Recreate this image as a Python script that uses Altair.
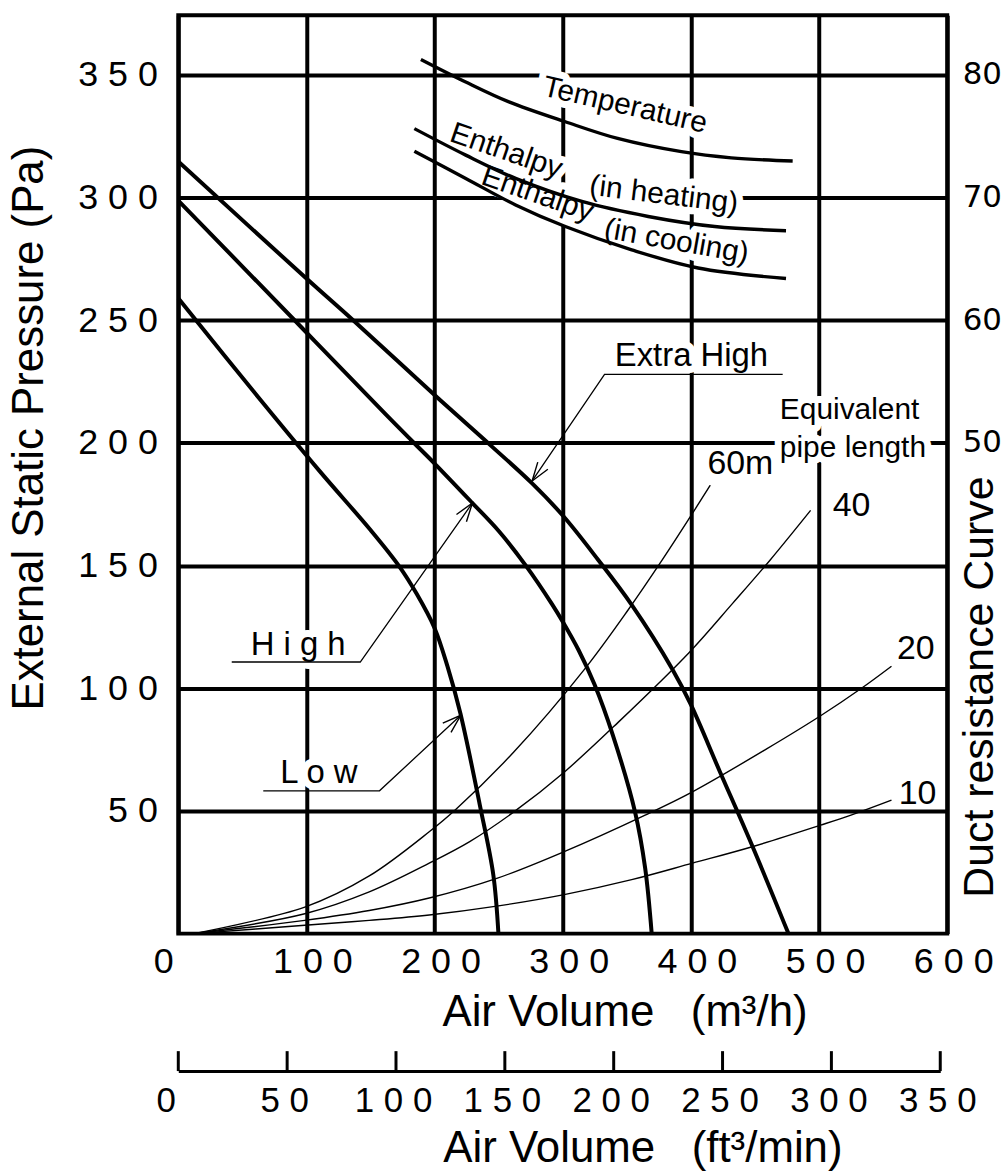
import altair as alt
import pandas as pd

# ---------------- data ----------------
# Fan curves: air volume (m3/h) -> external static pressure (Pa)
xh_q = [0, 100, 137.5, 203.6, 243.7, 276.1, 300.7, 327.4, 353.8, 385.3, 399.8, 422.2, 448.5, 476.1]
xh_p = [314.7, 267, 249.5, 217.8, 199, 183.5, 170, 152.5, 134, 108, 93.5, 66.5, 35, 0]
hi_q = [0, 100, 162.1, 181.6, 200.2, 229.5, 250.2, 270.9, 291.6, 300.7, 312.4, 324.8, 339.2, 356.4, 364.3, 369.4]
hi_p = [298.8, 245, 211.5, 201.2, 191.5, 175.5, 164, 150.2, 134.3, 126.5, 115.5, 101.5, 80.7, 49.6, 26.7, 0]
lo_q = [0, 62.6, 110.3, 150, 172, 186, 200, 210, 220, 235.3, 245.8, 249.8]
lo_p = [259, 218.5, 188.5, 164.5, 150, 138.5, 124.5, 109, 90, 52.4, 24, 0]

# Duct resistance curves (equivalent pipe length)
d60_q = [12, 98.7, 149, 195.8, 216.9, 261.6, 316.9, 351.1, 377.5, 397.8, 415]
d60_p = [0, 10.8, 23.5, 41.5, 50.8, 73.9, 107.7, 132, 152.2, 168.5, 182.7]
d40_q = [12, 98.7, 149, 195.8, 227.4, 261.6, 301.1, 343.2, 398.5, 432.7, 461.7, 493.4]
d40_p = [0, 8.1, 17, 28.7, 37.5, 49.5, 65.8, 86.1, 114.5, 134.7, 152.2, 172.5]
d20_q = [12, 98.7, 149, 195.8, 248.5, 301.1, 364.3, 401.2, 459.1, 501.2, 532.8, 556.5]
d20_p = [0, 5.4, 9.4, 14.5, 22.5, 33.4, 48.3, 57.8, 75.3, 88.8, 99.9, 109]
d10_q = [12, 98.7, 149, 195.8, 248.5, 301.1, 353.8, 401.2, 448.5, 501.2, 524.9, 556.5]
d10_p = [0, 3.4, 5.4, 7.6, 11.2, 15.9, 22, 28.7, 35.5, 44.2, 48.3, 54.4]

# Temperature / enthalpy curves (plotted against the pressure grid)
tmp_q = [189.3, 224.3, 258, 302, 342.8, 392.6, 431.5, 479.4]
tmp_p = [356.3, 347.1, 339, 330.9, 324.1, 318.7, 316.2, 314.9]
hea_q = [184.2, 224.3, 263.2, 314.9, 366.7, 418.6, 474.2]
hea_p = [328.1, 317.3, 307.8, 298.4, 292.3, 288.2, 286.5]
coo_q = [184.2, 224.3, 263.2, 302, 353.8, 405.6, 474.2]
coo_p = [318.9, 307.8, 297, 288.2, 278.7, 271.3, 267]

# Leader lines for fan-speed labels
ld_names = ["High", "High", "High", "Low", "Low", "Low", "Extra High", "Extra High", "Extra High"]
ld_q = [41.7, 142, 229.5, 66.3, 157, 220.4, 471.6, 332.6, 276.1]
ld_p = [110.7, 110.7, 175.5, 58.2, 58.2, 89, 227.9, 227.9, 184.5]
arrow_q = [229.5, 220.4, 276.1]
arrow_p = [175.5, 89, 184.5]
arrow_dir = [36, 48, 215]

# Text annotations
curve_txt = ["Temperature", "Enthalpy", "(in heating)", "Enthalpy", "(in cooling)"]
curve_txt_q = [348.6, 255.9, 378.9, 280.3, 388.7]
curve_txt_p = [337.6, 318.9, 301.1, 301.4, 282.1]
curve_txt_a = [13, 19, 7, 19, 10]

fan_txt = ["Extra High", "H i g h", "L o w"]
fan_txt_q = [400.4, 93.5, 109.7]
fan_txt_p = [235.5, 117.7, 65.6]

eq_txt = ["Equivalent", "pipe length"]
eq_txt_q = [469.4, 469.4]
eq_txt_p = [213.5, 198.1]

len_txt = ["60m", "40", "20", "10"]
len_txt_q = [438.6, 525.4, 575.5, 576.8]
len_txt_p = [191.5, 174.2, 116.1, 56.7]

x_ticks = [0, 100, 200, 300, 400, 500, 600]
y_ticks = [50, 100, 150, 200, 250, 300, 350]
right_ticks = [50, 60, 70, 80]
cfm_ticks = [0, 50, 100, 150, 200, 250, 300, 350]

NB = "\u00a0"
x_title = "Air Volume" + NB * 3 + "(m³/h)"
x2_title = "Air Volume" + NB * 3 + "(ft³/min)"

# ---------------- tables ----------------
def tbl(name, qs, ps):
    return pd.DataFrame({"s": name, "q": qs, "p": ps, "i": list(range(len(qs)))})

fan = pd.concat([tbl("xh", xh_q, xh_p), tbl("hi", hi_q, hi_p), tbl("lo", lo_q, lo_p)])
duct = pd.concat([tbl("60", d60_q, d60_p), tbl("40", d40_q, d40_p),
                  tbl("20", d20_q, d20_p), tbl("10", d10_q, d10_p)])
prop = pd.concat([tbl("t", tmp_q, tmp_p), tbl("h", hea_q, hea_p), tbl("c", coo_q, coo_p)])
lead = pd.DataFrame({"s": ld_names, "q": ld_q, "p": ld_p, "i": list(range(len(ld_q)))})
arrows = pd.DataFrame({"q": arrow_q, "p": arrow_p, "a": arrow_dir})
ctext = pd.DataFrame({"t": curve_txt, "q": curve_txt_q, "p": curve_txt_p, "a": curve_txt_a})
ftext = pd.DataFrame({"t": fan_txt, "q": fan_txt_q, "p": fan_txt_p})
etext = pd.DataFrame({"t": eq_txt, "q": eq_txt_q, "p": eq_txt_p})
ltext = pd.DataFrame({"t": len_txt, "q": len_txt_q, "p": len_txt_p})
rtab = pd.DataFrame({"v": right_ticks})

REG = "Liberation Sans, Arial, sans-serif"
SPACED = "join(split(datum.label, ''), ' ')"
ZERO_RIGHT = {"condition": {"test": "datum.value === 0", "value": "right"}, "value": "center"}

xs = alt.Scale(domain=[0, 600], nice=False, zero=False)
ys = alt.Scale(domain=[0, 374.3], nice=False, zero=False)

xaxis = alt.Axis(values=x_ticks, grid=True, gridColor="black", gridWidth=4, gridOpacity=1,
                 ticks=False, tickSize=0, domain=False, labelFlush=False,
                 labelAlign=ZERO_RIGHT,
                 labelOffset={"condition": {"test": "datum.value === 0", "value": -5}, "value": 6},
                 labelExpr=SPACED, labelFont=REG, labelFontSize=36, labelColor="black",
                 labelPadding=11, title=x_title, titleFont=REG, titleFontSize=44,
                 titleFontWeight="normal", titleColor="black", titleX=448, titleY=92,
                 titleAlign="center", titleBaseline="alphabetic")
yaxis = alt.Axis(values=y_ticks, grid=True, gridColor="black", gridWidth=4, gridOpacity=1,
                 ticks=False, tickSize=0, domain=False, labelFlush=False,
                 labelExpr=SPACED, labelFont=REG, labelFontSize=36, labelColor="black",
                 labelPadding=21, title="External Static Pressure (Pa)", titleFont=REG,
                 titleFontSize=44, titleFontWeight="normal", titleColor="black",
                 titleX=-149, titleY=414, titleAngle=270, titleAlign="center",
                 titleBaseline="middle")

X = alt.X("q:Q", scale=xs, axis=xaxis)
Y = alt.Y("p:Q", scale=ys, axis=yaxis)

fan_lines = alt.Chart(fan).mark_line(color="black", strokeWidth=4, interpolate="catmull-rom").encode(
    x=X, y=Y, detail="s:N", order="i:Q")
duct_lines = alt.Chart(duct).mark_line(color="black", strokeWidth=1.4, interpolate="catmull-rom").encode(
    x=X, y=Y, detail="s:N", order="i:Q")
prop_lines = alt.Chart(prop).mark_line(color="black", strokeWidth=3.4, interpolate="catmull-rom").encode(
    x=X, y=Y, detail="s:N", order="i:Q")
lead_lines = alt.Chart(lead).mark_line(color="black", strokeWidth=1.3).encode(
    x=X, y=Y, detail="s:N", order="i:Q")
arrow_pts = alt.Chart(arrows).mark_point(shape="M -0.33 1 L 0 0 L 0.33 1", filled=False,
                                          size=1400, strokeWidth=1.4, color="black", opacity=1).encode(
    x=X, y=Y, angle=alt.Angle("a:Q", scale=None))

def text_layers(df, size, align="center", angle=False, halo=True):
    enc = dict(x=X, y=Y, text="t:N")
    if angle:
        enc["angle"] = alt.Angle("a:Q", scale=None)
    out = []
    if halo:
        out.append(alt.Chart(df).mark_text(font=REG, fontSize=size, align=align, baseline="middle",
                                           color="white", stroke="white", strokeWidth=14,
                                           strokeJoin="round").encode(**enc))
    out.append(alt.Chart(df).mark_text(font=REG, fontSize=size, align=align, baseline="middle",
                                       color="black").encode(**enc))
    return out

c_h, c_t = text_layers(ctext, 30, angle=True)
f_h, f_t = text_layers(ftext, 33)
e_h, e_t = text_layers(etext, 30, align="left")
(l_t,) = text_layers(ltext, 34, halo=False)

inner = alt.layer(c_h, f_h, e_h, duct_lines, prop_lines, fan_lines, lead_lines, arrow_pts,
                  c_t, f_t, e_t, l_t)

right = alt.Chart(rtab).mark_point(opacity=0).encode(
    x=alt.value(0),
    y=alt.Y("v:Q", scale=alt.Scale(domain=[10, 84.86], nice=False, zero=False),
            axis=alt.Axis(orient="right", values=right_ticks, grid=False, ticks=False, tickSize=0,
                          domain=False, labelFont="DejaVu Sans", labelFontSize=31,
                          labelColor="black", labelPadding=15, labelFlush=False,
                          title="Duct resistance Curve", titleFont=REG, titleFontSize=43,
                          titleFontWeight="normal", titleColor="black", titleX=32, titleY=674,
                          titleAngle=270, titleAlign="center", titleBaseline="middle")))

main = alt.layer(inner, right).resolve_scale(y="independent").properties(
    width=772, height=922, view=alt.ViewBackground(stroke="black", strokeWidth=4, fill="white"))

sec = alt.Chart(pd.DataFrame({"cfm": cfm_ticks})).mark_rule(color="black", strokeWidth=3).encode(
    x=alt.X("cfm:Q", scale=alt.Scale(domain=[0, 350], nice=False, zero=False),
            axis=alt.Axis(values=cfm_ticks, grid=False, ticks=False, tickSize=0, domain=True,
                          domainColor="black", domainWidth=3, labelFlush=False, labelExpr=SPACED,
                          labelAlign=ZERO_RIGHT,
                          labelOffset={"condition": {"test": "datum.value === 0", "value": -3},
                                       "value": -3},
                          labelFont=REG, labelFontSize=35, labelColor="black", labelPadding=13,
                          title=x2_title, titleFont=REG, titleFontSize=44,
                          titleFontWeight="normal", titleColor="black", titleX=466, titleY=91,
                          titleAlign="center", titleBaseline="alphabetic"))
).properties(width=765, height=20, view=alt.ViewBackground(strokeOpacity=0))

chart = alt.vconcat(main, sec, spacing=118, bounds="flush").properties(
    background="white", padding={"left": 6, "top": 11, "right": 0, "bottom": 0})

chart.save("out.html", embed_options={"renderer": "svg", "actions": False})
